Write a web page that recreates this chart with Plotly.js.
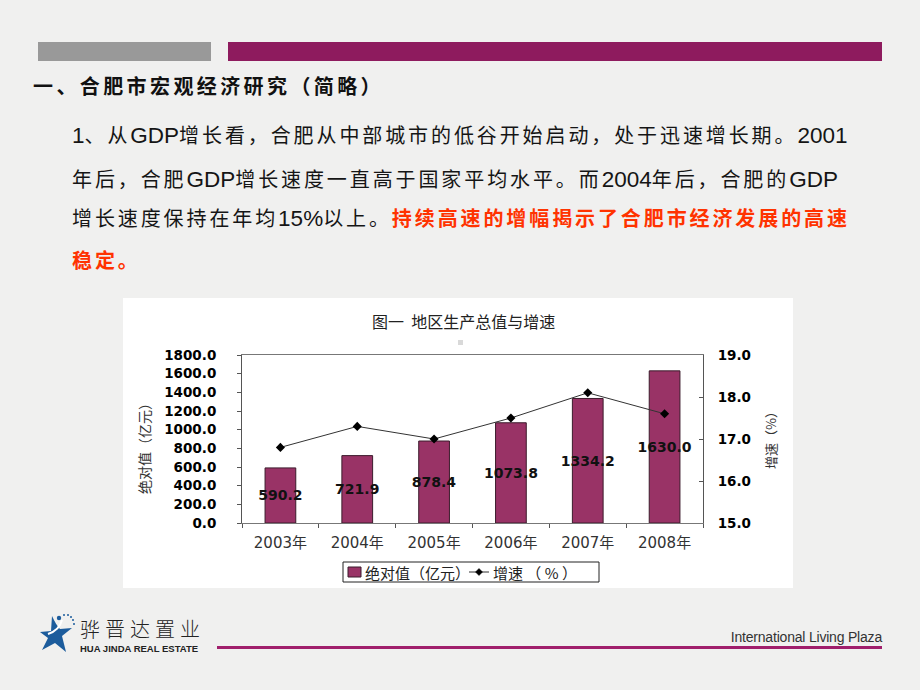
<!DOCTYPE html>
<html>
<head>
<meta charset="utf-8">
<script src="https://cdn.plot.ly/plotly-3.0.1.min.js"></script>
<style>
  html, body { margin:0; padding:0; background:#f0f0ef; }
  #wrap { position:relative; width:920px; height:690px; overflow:hidden; background:#f0f0ef; }
  #chart { position:absolute; left:0; top:0; width:920px; height:690px; }
  .t { position:absolute; white-space:nowrap; line-height:1; }
  .bar { position:absolute; }
  .cn { font-family:"Liberation Sans","Noto Sans CJK SC",sans-serif; }
  .la { font-family:"Liberation Sans",sans-serif; font-size:22.5px; letter-spacing:0; line-height:1; }
</style>
</head>
<body>
<div id="wrap">
  <div class="bar" style="left:38px;top:42px;width:173px;height:19px;background:#999999;"></div>
  <div class="bar" style="left:228px;top:42px;width:654px;height:19px;background:#8e1b5e;"></div>

  <div class="t cn" style="left:33px;top:77px;font-size:20px;font-weight:700;color:#111;letter-spacing:3.4px;">一、合肥市宏观经济研究（简略）</div>

  <div class="t cn" style="left:72px;top:125px;font-size:20px;color:#151515;letter-spacing:2.9px;"><span class="la">1</span>、从<span class="la">GDP</span>增长看，合肥从中部城市的低谷开始启动，处于迅速增长期。<span class="la">2001</span></div>
  <div class="t cn" style="left:72px;top:169px;font-size:20px;color:#151515;letter-spacing:2.9px;">年后，合肥<span class="la">GDP</span>增长速度一直高于国家平均水平。而<span class="la">2004</span>年后，合肥的<span class="la">GDP</span></div>
  <div class="t cn" style="left:72px;top:208px;font-size:20px;color:#151515;letter-spacing:2.9px;">增长速度保持在年均<span class="la">15%</span>以上。<span style="color:#ff3300;font-weight:700;">持续高速的增幅揭示了合肥市经济发展的高速</span></div>
  <div class="t cn" style="left:72px;top:251px;font-size:20px;color:#ff3300;font-weight:700;letter-spacing:2.9px;">稳定。</div>

  <div class="bar" style="left:123px;top:298px;width:670px;height:290px;background:#ffffff;"></div>

  <div id="chart"></div>

  <svg style="position:absolute;left:38px;top:612px;" width="42" height="44" viewBox="0 0 42 44">
    <path d="M14 4 C17 10 19 14 22 17 L34 16 L24 24 L28 40 L17 31 L4 38 L10 26 L2 20 L13 19 Z" fill="#1c5c9c"/>
    <path d="M10 22 C16 20 22 16 24 8" stroke="#ffffff" stroke-width="2" fill="none"/>
    <circle cx="21" cy="6" r="2.2" fill="#1c5c9c"/>
    <circle cx="26" cy="3" r="1" fill="#1c5c9c"/>
    <circle cx="30" cy="3" r="1" fill="#1c5c9c"/>
    <circle cx="33" cy="5" r="1" fill="#1c5c9c"/>
    <circle cx="35" cy="8" r="1" fill="#1c5c9c"/>
    <circle cx="36" cy="12" r="1" fill="#1c5c9c"/>
  </svg>
  <div class="t" style="left:80px;top:619px;font-family:'Noto Sans CJK SC';font-size:20px;font-weight:300;color:#222;letter-spacing:5px;">骅晋达置业</div>
  <div class="t" style="left:80px;top:644px;font-family:'Liberation Sans';font-size:9.5px;font-weight:700;color:#222;">HUA JINDA REAL ESTATE</div>

  <div class="bar" style="left:217px;top:646px;width:665px;height:3px;background:#a01f6c;"></div>
  <div class="t" style="right:38px;top:630px;font-family:'Liberation Sans';font-size:14px;color:#333;letter-spacing:-0.2px;">International Living Plaza</div>
</div>

<script>
// ---- data ----
const years = ['2003年', '2004年', '2005年', '2006年', '2007年', '2008年'];
const gdp = [590.2, 721.9, 878.4, 1073.8, 1334.2, 1630.0];
const growth = [16.8, 17.3, 17.0, 17.5, 18.1, 17.6];
const gdpLabels = ['590.2', '721.9', '878.4', '1073.8', '1334.2', '1630.0'];
const seriesNames = ['绝对值（亿元）', '增速 （ % ）'];
const chartTitle = '图一  地区生产总值与增速';
const leftTitle = '绝对值（亿元）';
const rightTitle = '增速（%）';

// ---- geometry of the plot area (pixels) ----
const L = 242, R = 703, T = 355, B = 523;
const px = x => (x - L) / (R - L);
const py = y => (B - y) / (B - T);

const cjk = 'Noto Sans CJK SC';
const barColor = '#993366', barEdge = '#3b1c2c';

const traces = [
  {
    type: 'bar', x: years, y: gdp, name: seriesNames[0],
    width: 0.4,
    marker: { color: barColor, line: { color: barEdge, width: 1 } },
    text: gdpLabels, textposition: 'inside', insidetextanchor: 'middle',
    constraintext: 'none', textangle: 0, cliponaxis: false,
    textfont: { family: 'DejaVu Sans', size: 14, color: '#111', weight: 'bold' },
    hoverinfo: 'none'
  },
  {
    type: 'scatter', mode: 'lines+markers', x: years, y: growth, yaxis: 'y2',
    name: seriesNames[1],
    line: { color: '#333', width: 1 },
    marker: { symbol: 'diamond', size: 7, color: '#000' },
    hoverinfo: 'none'
  }
];

// legend drawn as a framed key below the plot
const lgY = 572;
const legendShapes = [
  { type: 'rect', xref: 'paper', yref: 'paper', x0: px(343), x1: px(599), y0: py(582), y1: py(562),
    fillcolor: '#ffffff', line: { color: '#222', width: 1 } },
  { type: 'rect', xref: 'paper', yref: 'paper', x0: px(348), x1: px(361), y0: py(577), y1: py(567),
    fillcolor: barColor, line: { color: barEdge, width: 1 } },
  { type: 'line', xref: 'paper', yref: 'paper', x0: px(469), x1: px(489), y0: py(lgY), y1: py(lgY),
    line: { color: '#333', width: 1 } },
  { type: 'path', xref: 'paper', yref: 'paper',
    path: 'M' + px(479) + ',' + py(lgY - 3.5) + ' L' + px(482.5) + ',' + py(lgY) + ' L' + px(479) + ',' + py(lgY + 3.5) + ' L' + px(475.5) + ',' + py(lgY) + ' Z',
    fillcolor: '#000', line: { color: '#000', width: 0.5 } }
];

const layout = {
  width: 920, height: 690, autosize: false,
  margin: { l: L, r: 920 - R, t: T, b: 690 - B, pad: 0 },
  paper_bgcolor: 'rgba(0,0,0,0)', plot_bgcolor: '#ffffff',
  showlegend: false,
  xaxis: {
    type: 'category', tickson: 'boundaries', ticks: 'outside', ticklen: 4,
    tickcolor: '#555', showline: true, linecolor: '#777', linewidth: 1, mirror: true,
    showgrid: false, zeroline: false, ticklabelstandoff: 6,
    tickfont: { family: 'DejaVu Sans, ' + cjk, size: 15, color: '#333' },
    fixedrange: true
  },
  yaxis: {
    range: [0, 1800], dtick: 200, tick0: 0, tickformat: '.1f',
    ticks: 'outside', ticklen: 4, tickcolor: '#555',
    showline: true, linecolor: '#555', linewidth: 1,
    showgrid: false, zeroline: false, ticklabelstandoff: 18,
    tickfont: { family: 'DejaVu Sans', size: 13.5, color: '#000', weight: 'bold' },
    fixedrange: true
  },
  yaxis2: {
    overlaying: 'y', side: 'right', range: [15, 19], dtick: 1, tick0: 15, tickformat: '.1f',
    ticks: 'inside', ticklen: 4, tickcolor: '#555',
    showline: true, linecolor: '#555', linewidth: 1,
    showgrid: false, zeroline: false, ticklabelstandoff: 11,
    tickfont: { family: 'DejaVu Sans', size: 13.5, color: '#000', weight: 'bold' },
    fixedrange: true
  },
  annotations: [
    { text: chartTitle, xref: 'paper', yref: 'paper', x: px(463), y: py(321),
      xanchor: 'center', yanchor: 'middle',
      showarrow: false, font: { family: cjk, size: 16, color: '#222' } },
    { text: leftTitle, xref: 'paper', yref: 'paper', x: px(144), y: py(445),
      xanchor: 'center', yanchor: 'middle',
      showarrow: false, textangle: -90, font: { family: cjk, size: 14, color: '#333' } },
    { text: rightTitle, xref: 'paper', yref: 'paper', x: px(770), y: py(437),
      xanchor: 'center', yanchor: 'middle',
      showarrow: false, textangle: -90, font: { family: cjk, size: 13, color: '#333' } },
    { text: seriesNames[0], xref: 'paper', yref: 'paper', x: px(363), y: py(lgY),
      xanchor: 'left', yanchor: 'middle',
      showarrow: false, font: { family: cjk, size: 15, color: '#222' } },
    { text: seriesNames[1], xref: 'paper', yref: 'paper', x: px(491), y: py(lgY),
      xanchor: 'left', yanchor: 'middle',
      showarrow: false, font: { family: cjk, size: 15, color: '#222' } }
  ],
  shapes: [
    { type: 'rect', xref: 'paper', yref: 'paper', x0: px(458), x1: px(463), y0: py(340), y1: py(345),
      fillcolor: '#d9d9d9', line: { width: 0 } }
  ].concat(legendShapes)
};

Plotly.newPlot('chart', traces, layout, { staticPlot: true, displayModeBar: false });
</script>
</body>
</html>
